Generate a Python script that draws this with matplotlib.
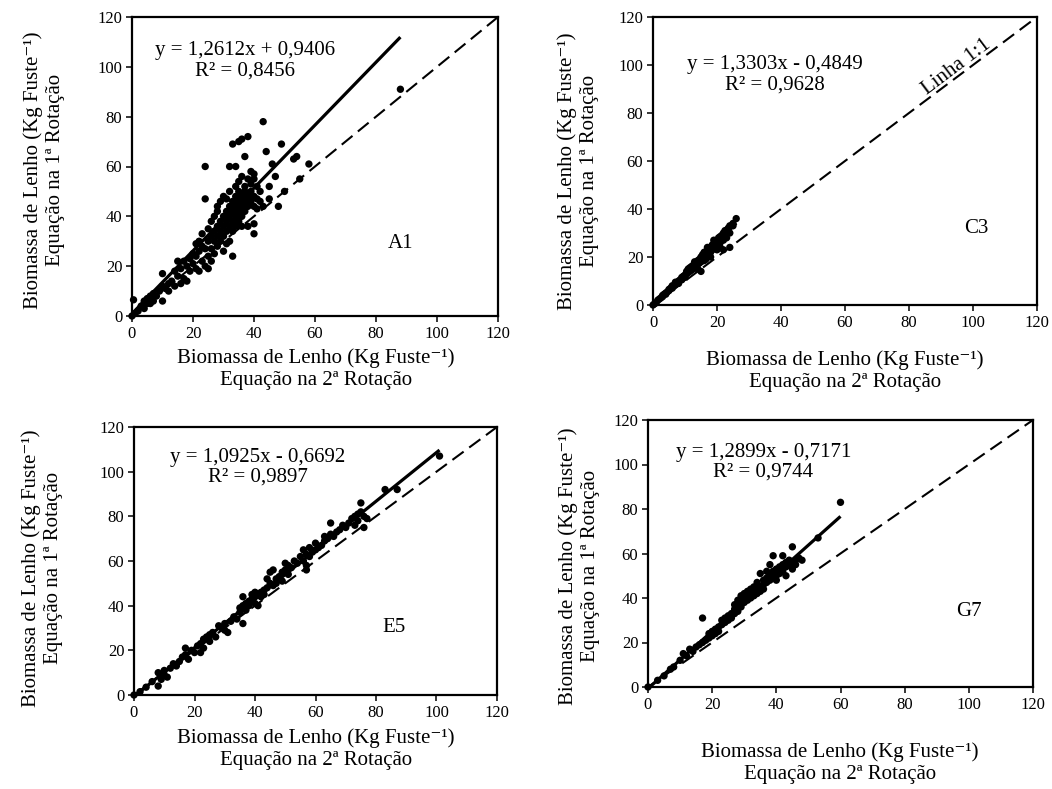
"""Biomassa de lenho: equação da 1ª rotação vs 2ª rotação (quatro clones)."""

import matplotlib
matplotlib.use("Agg")
import matplotlib.pyplot as plt
import numpy as np

plt.rcParams["font.family"] = ["Liberation Serif", "DejaVu Serif"]
plt.rcParams["lines.scale_dashes"] = False

W, H = 1052, 789

# ---------------------------------------------------------------------------
# Data (x = 2ª rotação, y = 1ª rotação), kg fuste^-1
# ---------------------------------------------------------------------------
a1_x = [0, 0.5, 1, 2, 3, 4, 4, 5, 5, 6, 6, 7, 7, 8, 9, 10, 10, 10, 11, 12, 12, 13,
        14, 14, 15, 15, 16, 16, 17, 17, 18, 18, 19, 19, 20, 20,
        21, 21, 21, 22, 22, 22, 23, 23, 23, 24, 24, 24, 24, 25, 25, 25, 25, 26, 26,
        26, 26, 27, 27, 27, 27, 28, 28, 28, 28, 28, 29, 29, 29, 29, 30, 30, 30, 30,
        30, 31, 31, 31, 31, 31, 32, 32, 32, 32, 32, 32, 33, 33, 33, 33, 33, 33, 34,
        34, 34, 34, 34, 34, 35, 35, 35, 35, 35, 35,
        36, 36, 36, 36, 36, 36, 37, 37, 37, 37, 37, 38, 38, 38, 38, 38, 39, 39, 39,
        39, 40, 40, 40, 40, 40, 40, 41, 41, 41, 42, 42, 43, 43, 44, 45, 45, 46, 47,
        48, 49, 50, 53, 54, 55, 58, 88]
a1_y = [0, 6.5, 1, 2, 4, 3, 6, 5, 7, 5, 8, 6, 9, 8, 10, 6, 12, 17, 11, 13, 10, 14,
        12, 18, 22, 16, 13, 19, 15, 22, 20, 14, 18, 23, 21, 25,
        29, 24, 19, 30, 26, 18, 22, 28, 33, 20, 47, 60, 27, 24, 30, 35, 19, 32, 27,
        38, 22, 30, 34, 40, 25, 28, 36, 32, 42, 44, 30, 38, 34, 46, 40, 32, 26, 48,
        36, 42, 29, 34, 38, 47, 36, 44, 30, 40, 60, 50, 38, 46, 34, 42, 69, 24, 40,
        48, 52, 36, 44, 60, 42, 50, 38, 46, 54, 70,
        44, 48, 56, 40, 71, 36, 46, 52, 64, 50, 42, 48, 55, 44, 72, 36, 50, 46, 53,
        58, 44, 48, 55, 57, 37, 33, 47, 52, 43, 46, 50, 78, 44, 66, 52, 47, 61, 56,
        44, 69, 50, 63, 64, 55, 61, 91]

c3_x = [0, 0.5, 1, 1.5, 2, 2.5, 3, 3, 3.5, 4, 4, 4.5, 5, 5, 5.5, 6, 6, 6.5, 7, 7,
        7.5, 8, 8, 8.5, 9, 9, 9.5, 10, 10, 10.5, 10.5, 11, 11, 11.5, 11.5, 12, 12,
        12.5, 12.5, 13, 13, 13, 13.5, 13.5, 14, 14, 14, 14.5, 14.5, 15, 15, 15,
        15.5, 15.5, 16, 16, 16, 16.5, 16.5, 17, 17, 17, 17.5, 17.5, 18, 18, 18,
        18.5, 18.5, 19, 19, 19, 19.5, 20, 20, 20, 20.5, 21, 21, 21, 21.5, 22, 22,
        22, 22.5, 23, 23, 23.5, 24, 24, 24, 25, 25, 26]
c3_y = [0, 0.5, 1, 2, 2.5, 3, 3.5, 4, 4.5, 5, 4.5, 5.5, 6, 6.5, 7, 7, 8, 8, 8.5,
        9.5, 9, 10, 9, 10.5, 11.5, 10.5, 12, 12.5, 11.5, 13, 14, 13.5, 15, 14,
        15.5, 16, 14.5, 16.5, 15, 17, 15.5, 18, 17.5, 16, 18.5, 17, 15, 19, 17.5,
        20, 18, 14, 19.5, 21, 20.5, 18.5, 22, 21.5, 19, 22.5, 20, 24, 23, 21, 24,
        22, 20, 25, 23, 25.5, 23.5, 27, 26, 27, 25, 23, 28, 28.5, 26, 24, 29, 30,
        27, 23, 31, 31, 28, 32, 33, 24, 30, 33, 34, 36]

e5_x = [0, 2, 4, 6, 8, 8, 9, 10, 10, 11, 12, 13, 14, 15, 16, 17, 17, 18, 19, 20,
        21, 22, 22, 23, 23, 24, 25, 25, 26, 27, 28, 29, 30, 30, 31, 32, 33, 34, 35,
        35, 36, 36, 36, 37, 37, 38, 38, 39, 39, 40, 40, 40, 41, 41, 42, 42, 43, 43,
        44, 44, 45, 45, 46, 46, 47, 47, 48, 49, 49, 50, 50, 51, 51, 52, 53, 54, 55,
        56, 56, 57, 57, 57, 58, 58, 59, 60, 60, 61, 62, 63, 63, 64, 65, 65, 66, 67,
        68, 69, 70, 71, 72, 73, 73, 74, 74, 75, 75, 76, 76, 77, 83, 87, 101]
e5_y = [0, 1.5, 3.5, 6, 4, 10, 7, 9, 11, 8, 12, 14, 13, 15, 17, 21, 18, 16, 20,
        19, 22, 23, 19, 21, 25, 26, 24, 27, 28, 26, 31, 30, 29, 32, 28, 33, 35, 34,
        37, 39, 32, 44, 40, 38, 41, 42, 40, 43, 45, 44, 46, 41, 40, 45, 46, 44, 47,
        45, 48, 52, 55, 50, 49, 56, 52, 50, 53, 55, 51, 56, 59, 54, 58, 57, 60, 59,
        62, 60, 65, 63, 56, 58, 66, 62, 64, 65, 68, 66, 67, 71, 69, 70, 77, 72, 71,
        73, 74, 76, 75, 77, 79, 80, 76, 81, 78, 82, 86, 80, 75, 79, 92, 92, 107]

g7_x = [0, 3, 5, 7, 8, 10, 11, 12, 13, 14, 15, 16, 17, 17, 18, 19, 19, 20, 20, 21,
        21, 22, 22, 23, 23, 24, 24, 25, 25, 26, 26, 27, 27, 27, 28, 28, 28, 29, 29,
        29, 30, 30, 30, 31, 31, 31, 32, 32, 32, 33, 33, 33, 34, 34, 34, 35, 35, 35,
        36, 36, 36, 37, 37, 37, 38, 38, 38, 39, 39, 39, 40, 40, 40, 41, 41, 42, 42,
        42, 43, 43, 43, 44, 44, 45, 45, 45, 46, 46, 47, 48, 53, 60]
g7_y = [0, 3, 5, 8, 9, 12, 15, 14, 17, 16, 18, 19, 20, 31, 21, 22, 24, 25, 23, 26,
        24, 27, 25, 28, 30, 29, 31, 32, 30, 33, 31, 33, 35, 37, 34, 36, 39, 38, 36,
        41, 40, 38, 42, 39, 41, 43, 40, 42, 44, 41, 43, 45, 42, 44, 47, 43, 45, 51,
        46, 48, 44, 47, 49, 52, 48, 50, 55, 49, 52, 59, 50, 53, 48, 54, 51, 55, 52,
        59, 54, 56, 50, 55, 57, 56, 53, 63, 57, 55, 58, 57, 67, 83]

panel_names = ["A1", "C3", "E5", "G7"]
slopes = [1.2612, 1.3303, 1.0925, 1.2899]
intercepts = [0.9406, -0.4849, -0.6692, -0.7171]
equations = ["y = 1,2612x + 0,9406\nR² = 0,8456",
             "y = 1,3303x - 0,4849\nR² = 0,9628",
             "y = 1,0925x - 0,6692\nR² = 0,9897",
             "y = 1,2899x - 0,7171\nR² = 0,9744"]
ticks = [0, 20, 40, 60, 80, 100, 120]

XLABEL = "Biomassa de Lenho (Kg Fuste⁻¹)\nEquação na 2ª Rotação"
YLABEL = "Biomassa de Lenho (Kg Fuste⁻¹)\nEquação na 1ª Rotação"

# layout in pixels: axes box (left, top, right, bottom), label anchors
BOXES = {"A1": (132, 17, 498, 316), "C3": (653, 17, 1037, 305),
         "E5": (134, 427, 497, 695), "G7": (648, 420, 1033, 687)}
XLAB_POS = {"A1": (316, 369), "C3": (845, 371), "E5": (316, 749), "G7": (840, 763)}
YLAB_POS = {"A1": (44, 170), "C3": (578, 171), "E5": (42, 568), "G7": (579, 566)}
EQ_POS = {"A1": (37, 102.5), "C3": (38, 96), "E5": (41, 102), "G7": (36, 101)}
TAG_POS = {"A1": (88, 29), "C3": (101, 32), "E5": (86, 30), "G7": (100, 34)}


def _fx(px):
    return px / W


def _fy(py):
    return 1 - py / H


def draw_panel(fig, name, xs, ys, slope, icpt, eq):
    l, t, r, b = BOXES[name]
    ax = fig.add_axes([_fx(l), _fy(b), (r - l) / W, (b - t) / H])
    xs = np.asarray(xs, float)
    ys = np.asarray(ys, float)

    ax.plot([0, 120], [0, 120], color="black", lw=1.5, dashes=(10, 5))
    xf = np.array([xs.min(), xs.max()])
    ax.plot(xf, slope * xf + icpt, color="black", lw=2.3, solid_capstyle="butt")
    ax.scatter(xs, ys, s=28, c="black", edgecolors="none", zorder=3, clip_on=False)

    ax.set_xlim(0, 120)
    ax.set_ylim(0, 120)
    ax.set_xticks(ticks)
    ax.set_yticks(ticks)
    ax.tick_params(direction="out", length=4, width=1.1, labelsize=12, pad=3)
    for sp in ax.spines.values():
        sp.set_linewidth(1.6)

    ex, ey = EQ_POS[name]
    ax.text(ex, ey, eq, ha="center", va="center", fontsize=15, linespacing=1.1,
            multialignment="center")
    tx, ty = TAG_POS[name]
    ax.text(tx, ty, name, ha="center", va="center", fontsize=15)
    if name == "C3":
        ax.text(95, 99, "Linha 1:1", ha="center", va="center", fontsize=15,
                rotation=37, rotation_mode="anchor")

    px, py = XLAB_POS[name]
    fig.text(_fx(px), _fy(py), XLABEL, ha="center", va="center", fontsize=15,
             linespacing=1.2, multialignment="center")
    qx, qy = YLAB_POS[name]
    fig.text(_fx(qx), _fy(qy), YLABEL, ha="center", va="center", fontsize=15,
             rotation=90, linespacing=1.2, multialignment="center")
    return ax


fig = plt.figure(figsize=(W / 100, H / 100), dpi=100)
data = [(a1_x, a1_y), (c3_x, c3_y), (e5_x, e5_y), (g7_x, g7_y)]
for name, (xs, ys), sl, ic, eq in zip(panel_names, data, slopes, intercepts, equations):
    draw_panel(fig, name, xs, ys, sl, ic, eq)

fig.savefig("out.png", dpi=100)
plt.close(fig)
